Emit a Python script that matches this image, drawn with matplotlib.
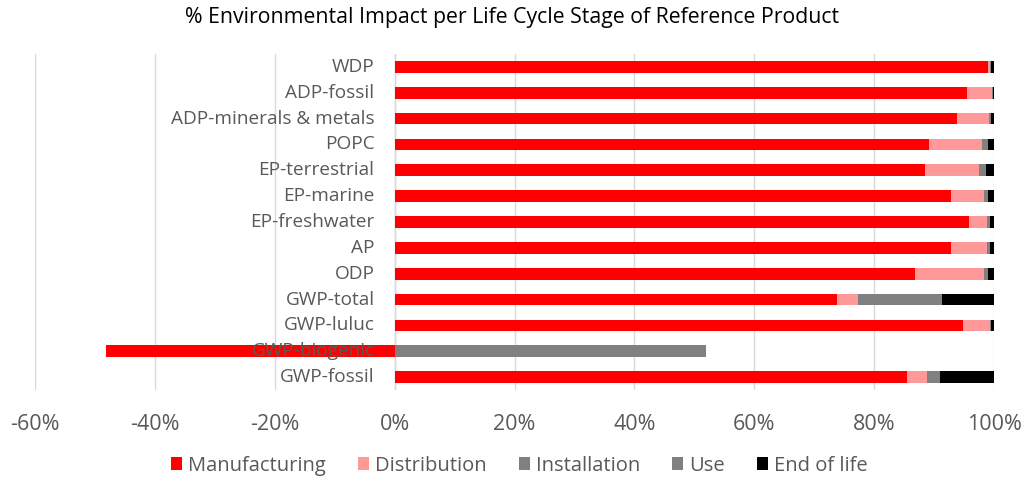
import matplotlib.pyplot as plt
import matplotlib.transforms as mtransforms
import numpy as np

plt.rcParams["font.family"] = ["Open Sans", "DejaVu Sans"]

categories = [
    "WDP", "ADP-fossil", "ADP-minerals & metals", "POPC", "EP-terrestrial",
    "EP-marine", "EP-freshwater", "AP", "ODP", "GWP-total", "GWP-luluc",
    "GWP-biogenic", "GWP-fossil",
]
manufacturing = [99.0, 95.5, 93.8, 89.1, 88.5, 92.8, 95.7, 92.8, 86.8, 73.8, 94.8, -48.2, 85.5]
distribution = [0.3, 4.1, 5.3, 8.9, 9.0, 5.4, 3.1, 5.9, 11.4, 3.4, 4.5, 0.0, 3.3]
installation = [0.0, 0.0, 0.2, 0.4, 0.5, 0.4, 0.2, 0.3, 0.4, 6.0, 0.1, 51.9, 1.0]
use = [0.2, 0.1, 0.2, 0.5, 0.6, 0.4, 0.3, 0.3, 0.4, 8.0, 0.1, 0.0, 1.2]
end_of_life = [0.5, 0.3, 0.5, 1.1, 1.4, 1.0, 0.7, 0.7, 1.0, 8.8, 0.5, 0.0, 9.0]

series = [
    ("Manufacturing", manufacturing, "#ff0000"),
    ("Distribution", distribution, "#ff9999"),
    ("Installation", installation, "#808080"),
    ("Use", use, "#808080"),
    ("End of life", end_of_life, "#000000"),
]

text_color = "#595959"
grid_color = "#d9d9d9"

fig = plt.figure(figsize=(10.24, 4.8), dpi=100)
ax = fig.add_axes([0.034, 0.1875, 0.937, 0.7])

y = np.arange(len(categories))
pos_left = np.zeros(len(categories))
neg_left = np.zeros(len(categories))
for name, vals, color in series:
    vals = np.array(vals)
    left = np.where(vals >= 0, pos_left, neg_left)
    ax.barh(y, vals, left=left, height=0.45, color=color, label=name, zorder=2)
    pos_left += np.where(vals >= 0, vals, 0)
    neg_left += np.where(vals < 0, vals, 0)

ax.set_xlim(-60, 100)
ax.set_ylim(len(categories) - 0.5, -0.5)
ax.set_xticks(np.arange(-60, 101, 20))
ax.set_xticklabels([f"{t}%" for t in range(-60, 101, 20)])
ax.tick_params(axis="x", length=0, pad=17, labelsize=15.5, labelcolor=text_color)
ax.set_yticks([])
ax.grid(axis="x", color=grid_color, linewidth=1, zorder=0)
ax.axvline(0, color=grid_color, linewidth=1, zorder=1)
for s in ax.spines.values():
    s.set_visible(False)

trans = mtransforms.offset_copy(ax.transData, fig=fig, x=-20, y=0, units="dots")
for yi, cat in zip(y, categories):
    ax.text(0, yi, cat, transform=trans, ha="right", va="center",
            fontsize=13.7, color=text_color, zorder=5)

fig.suptitle("% Environmental Impact per Life Cycle Stage of Reference Product",
             y=0.985, fontsize=15.3, color="#000000")

ax.legend(loc="center", bbox_to_anchor=(0.505, -0.225), ncol=5, frameon=False,
          fontsize=14.5, labelcolor=text_color, handlelength=0.55, handleheight=0.55,
          handletextpad=0.3, columnspacing=1.6, borderaxespad=0.0, borderpad=0.0)

fig.savefig("out.png", dpi=100)
